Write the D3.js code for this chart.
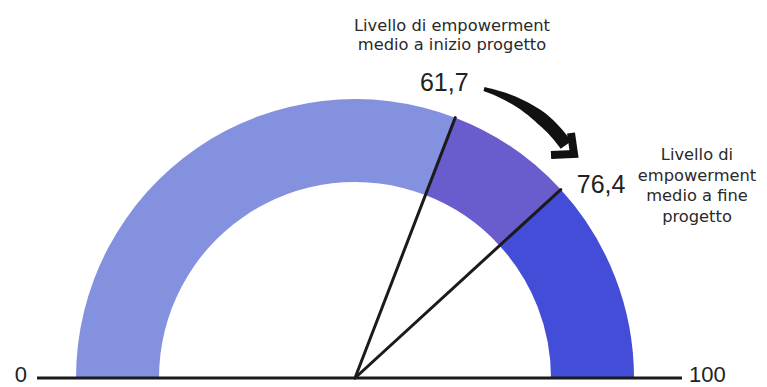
<!DOCTYPE html>
<html>
<head>
<meta charset="utf-8">
<script src="https://cdn.jsdelivr.net/npm/d3@7"></script>
<style>
  html, body { margin: 0; padding: 0; background: #ffffff; }
  svg { display: block; }
</style>
</head>
<body>
<svg id="chart" width="767" height="387"></svg>
<script>
// ---- data ----
const segmentBreaks = [0, 61.7, 76.4, 100];
const segmentColors = ["#8391de", "#695ccd", "#434dd7"];
const markerValues = [61.7, 76.4];
const markerLabels = ["61,7", "76,4"];
const scaleEndLabels = ["0", "100"];
const startLabel = ["Livello di empowerment", "medio a inizio progetto"];
const endLabel = ["Livello di", "empowerment", "medio a fine", "progetto"];

// ---- layout ----
const svg = d3.select("#chart");
const cx = 355, cy = 378;
const rOuter = 279, rInner = 196;
const angle = d3.scaleLinear().domain([0, 100]).range([-Math.PI / 2, Math.PI / 2]);

const g = svg.append("g").attr("transform", `translate(${cx},${cy})`);

const arc = d3.arc().innerRadius(rInner).outerRadius(rOuter);
const segs = d3.pairs(segmentBreaks).map((p, i) => ({ from: p[0], to: p[1], color: segmentColors[i] }));

g.selectAll("path.seg")
  .data(segs)
  .join("path")
  .attr("class", "seg")
  .attr("d", d => arc({ startAngle: angle(d.from), endAngle: angle(d.to) }))
  .attr("fill", d => d.color);

// marker lines from the centre to the outer edge
const pt = (v, r) => [Math.sin(angle(v)) * r, -Math.cos(angle(v)) * r];
g.selectAll("line.marker")
  .data(markerValues)
  .join("line")
  .attr("class", "marker")
  .attr("x1", 0).attr("y1", 0)
  .attr("x2", d => pt(d, rOuter)[0])
  .attr("y2", d => pt(d, rOuter)[1])
  .attr("stroke", "#1b1b1b")
  .attr("stroke-width", 3)
  .attr("stroke-linecap", "round");

// baseline
svg.append("line")
  .attr("x1", 37).attr("x2", 682)
  .attr("y1", cy).attr("y2", cy)
  .attr("stroke", "#1b1b1b")
  .attr("stroke-width", 3);

// end labels 0 / 100
const numFont = "'Liberation Sans', Arial, sans-serif";
svg.append("text")
  .attr("x", 27).attr("y", cy + 4)
  .attr("text-anchor", "end")
  .attr("font-family", numFont).attr("font-size", 22)
  .attr("fill", "#222")
  .text(scaleEndLabels[0]);
svg.append("text")
  .attr("x", 689).attr("y", cy + 4)
  .attr("text-anchor", "start")
  .attr("font-family", numFont).attr("font-size", 22)
  .attr("fill", "#222")
  .text(scaleEndLabels[1]);

// marker value labels
const p1 = pt(markerValues[0], rOuter);
const p2 = pt(markerValues[1], rOuter);
svg.append("text")
  .attr("x", cx + p1[0] - 11).attr("y", cy + p1[1] - 27)
  .attr("text-anchor", "middle")
  .attr("font-family", numFont).attr("font-size", 25)
  .attr("fill", "#222")
  .text(markerLabels[0]);
svg.append("text")
  .attr("x", cx + p2[0] + 16).attr("y", cy + p2[1] + 3)
  .attr("text-anchor", "start")
  .attr("font-family", numFont).attr("font-size", 25)
  .attr("fill", "#222")
  .text(markerLabels[1]);

// descriptive labels
const lblFont = "'DejaVu Sans', sans-serif";
svg.append("text")
  .attr("font-family", lblFont).attr("font-size", 16.3)
  .attr("fill", "#2a2a2a")
  .attr("text-anchor", "middle")
  .selectAll("tspan")
  .data(startLabel)
  .join("tspan")
  .attr("x", 452)
  .attr("y", (d, i) => 31 + i * 19)
  .text(d => d);

svg.append("text")
  .attr("font-family", lblFont).attr("font-size", 16.3)
  .attr("fill", "#2a2a2a")
  .attr("text-anchor", "middle")
  .selectAll("tspan")
  .data(endLabel)
  .join("tspan")
  .attr("x", 697)
  .attr("y", (d, i) => 160 + i * 20.5)
  .text(d => d);

// curved arrow (tapered shaft + chevron head)
const arrow = svg.append("g");
const P0 = [484, 89], C = [537, 104], P2 = [566, 145];
const N = 30, left = [], right = [];
for (let i = 0; i <= N; i++) {
  const t = i / N;
  const x = (1 - t) * (1 - t) * P0[0] + 2 * (1 - t) * t * C[0] + t * t * P2[0];
  const y = (1 - t) * (1 - t) * P0[1] + 2 * (1 - t) * t * C[1] + t * t * P2[1];
  const dx = 2 * (1 - t) * (C[0] - P0[0]) + 2 * t * (P2[0] - C[0]);
  const dy = 2 * (1 - t) * (C[1] - P0[1]) + 2 * t * (P2[1] - C[1]);
  const len = Math.hypot(dx, dy);
  const w = (4 + 9 * Math.min(1, t * 1.6)) / 2;
  left.push([x - dy / len * w, y + dx / len * w]);
  right.push([x + dy / len * w, y - dx / len * w]);
}
arrow.append("path")
  .attr("d", d3.line()(left.concat(right.reverse())) + "Z")
  .attr("fill", "#111");
arrow.append("path")
  .attr("d", d3.line()([[571, 133], [574, 154], [551, 155]]))
  .attr("fill", "none")
  .attr("stroke", "#111")
  .attr("stroke-width", 8)
  .attr("stroke-linejoin", "miter");
</script>
</body>
</html>
